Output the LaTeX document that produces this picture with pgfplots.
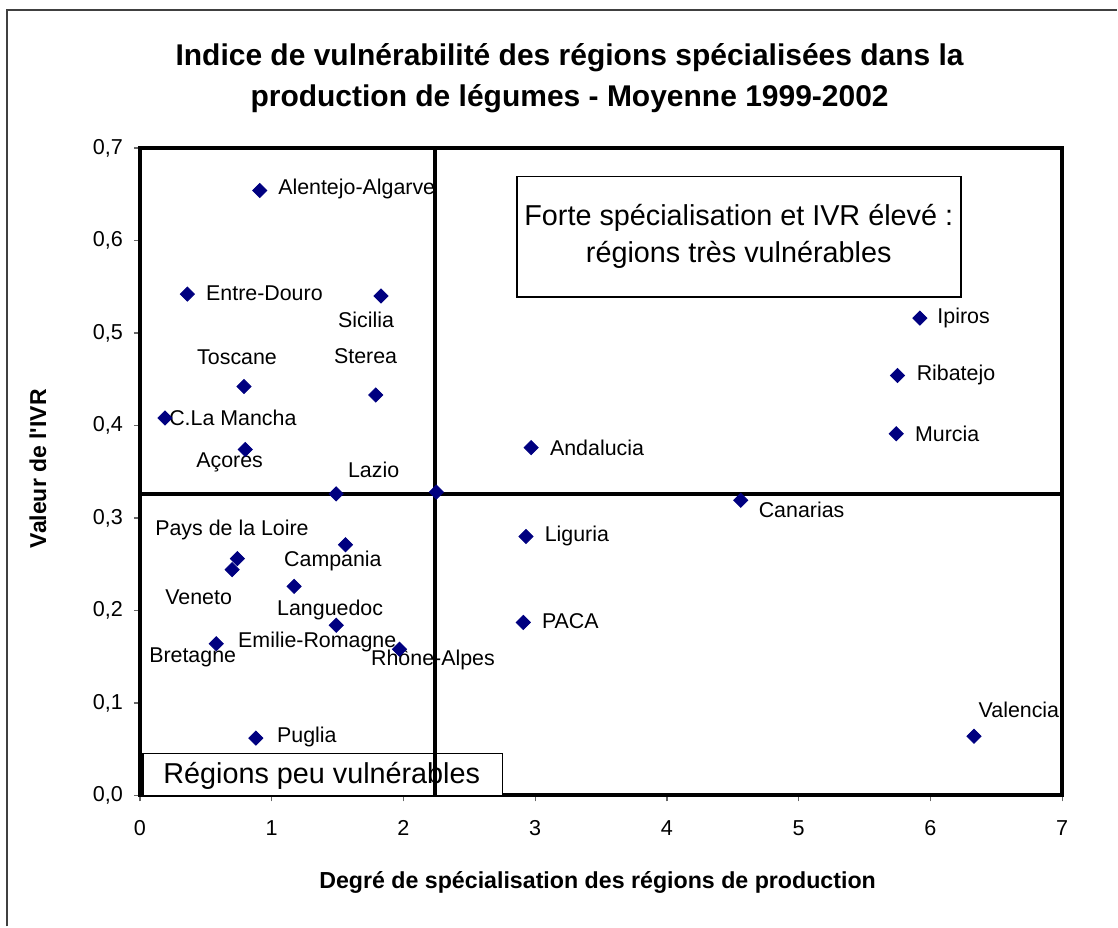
\documentclass[border=0pt]{standalone}
\usepackage{fontspec}
\setmainfont{Liberation Sans}
\usepackage{pgfplots}
\usepackage{pgfplotstable}
\pgfplotsset{compat=1.18}

\definecolor{navy}{HTML}{000080}

% marker position (x,y) and where the label starts (lx,ly)
\pgfplotstableread[col sep=comma]{
x,y,lx,ly,name
0.91,0.654,1.047,0.656,Alentejo-Algarve
0.36,0.542,0.500,0.543,Entre-Douro
1.83,0.540,1.502,0.514,Sicilia
0.79,0.442,0.432,0.474,Toscane
1.79,0.433,1.471,0.475,Sterea
0.19,0.408,0.220,0.408,C.La Mancha
0.80,0.374,0.425,0.360,Açores
1.49,0.326,1.577,0.352,Lazio
0.74,0.256,0.114,0.287,Pays de la Loire
0.70,0.244,0.190,0.214,Veneto
1.56,0.271,1.092,0.253,Campania
1.17,0.226,1.039,0.201,Languedoc
1.49,0.184,0.743,0.166,Emilie-Romagne
0.58,0.164,0.068,0.149,Bretagne
1.97,0.158,1.752,0.147,Rhône-Alpes
0.88,0.062,1.039,0.063,Puglia
5.92,0.516,6.050,0.516,Ipiros
5.75,0.454,5.893,0.454,Ribatejo
5.74,0.391,5.880,0.391,Murcia
2.97,0.376,3.110,0.376,Andalucia
4.56,0.319,4.694,0.309,Canarias
2.93,0.280,3.070,0.281,Liguria
2.91,0.187,3.049,0.188,PACA
6.33,0.064,6.363,0.092,Valencia
}\regions

\begin{document}
\begin{tikzpicture}
% page size and outer frame
\path (0,0) rectangle (559pt,463.5pt);
\draw[black!75, line width=0.8pt] (3.5pt,0) -- (3.5pt,458.5pt) -- (559pt,458.5pt);

\node[align=center, font=\fontsize{15}{20.5}\selectfont\bfseries] at (285pt,424.5pt)
  {Indice de vulnérabilité des régions spécialisées dans la\\
   production de légumes - Moyenne 1999-2002};
\node[font=\fontsize{11.6}{13}\selectfont\bfseries] at (299pt,22pt)
  {Degré de spécialisation des régions de production};
\node[rotate=90, font=\fontsize{11.5}{13}\selectfont\bfseries] at (19pt,229pt)
  {Valeur de l\textquotesingle IVR};

\begin{axis}[
  at={(70pt,65.5pt)}, anchor=south west,
  scale only axis, width=461.5pt, height=324pt,
  xmin=0, xmax=7, ymin=0, ymax=0.7,
  xtick={0,1,...,7},
  ytick={0,0.1,0.2,0.3,0.4,0.5,0.6,0.7},
  xtick pos=left, ytick pos=left,
  tick align=outside,
  major tick length=3pt,
  every tick/.style={black!60, line width=0.6pt},
  axis line style={line width=2pt},
  ticklabel style={font=\fontsize{10.8}{12}\selectfont},
  /pgf/number format/assume math mode=true,
  yticklabel style={/pgf/number format/fixed, /pgf/number format/fixed zerofill,
    /pgf/number format/precision=1, /pgf/number format/use comma, xshift=-2pt},
  xticklabel style={yshift=-6pt},
  clip=false,
]
% region boxes
\draw[black, line width=0.8pt, fill=white] (axis cs:2.86,0.539) rectangle (axis cs:6.23,0.669);
\node[align=center, font=\fontsize{14.4}{18.5}\selectfont] at (axis cs:4.545,0.604)
  {Forte spécialisation et IVR élevé :\\ régions très vulnérables};
\draw[black, line width=0.8pt, fill=white] (axis cs:0.023,0) rectangle (axis cs:2.753,0.0454);
\node[font=\fontsize{14.4}{17}\selectfont] at (axis cs:1.38,0.0215) {Régions peu vulnérables};

% data labels
\addplot[draw=none, mark=none, nodes near coords, point meta=explicit symbolic,
  every node near coord/.append style={anchor=west, inner sep=0pt,
    font=\fontsize{10.7}{12}\selectfont}]
  table[x=lx, y=ly, meta=name] {\regions};

% quadrant dividers
\addplot[black, line width=2pt] coordinates {(2.24,0) (2.24,0.7)};
\addplot[black, line width=2pt] coordinates {(0,0.326) (7,0.326)};

% regions
\addplot[only marks, mark=square*, mark size=2.5pt, color=navy,
  mark options={rotate=45}] table[x=x, y=y] {\regions};
\addplot[only marks, mark=square*, mark size=2.5pt, color=navy,
  mark options={rotate=45}] coordinates {(2.25,0.328)};
\end{axis}
\end{tikzpicture}
\end{document}
